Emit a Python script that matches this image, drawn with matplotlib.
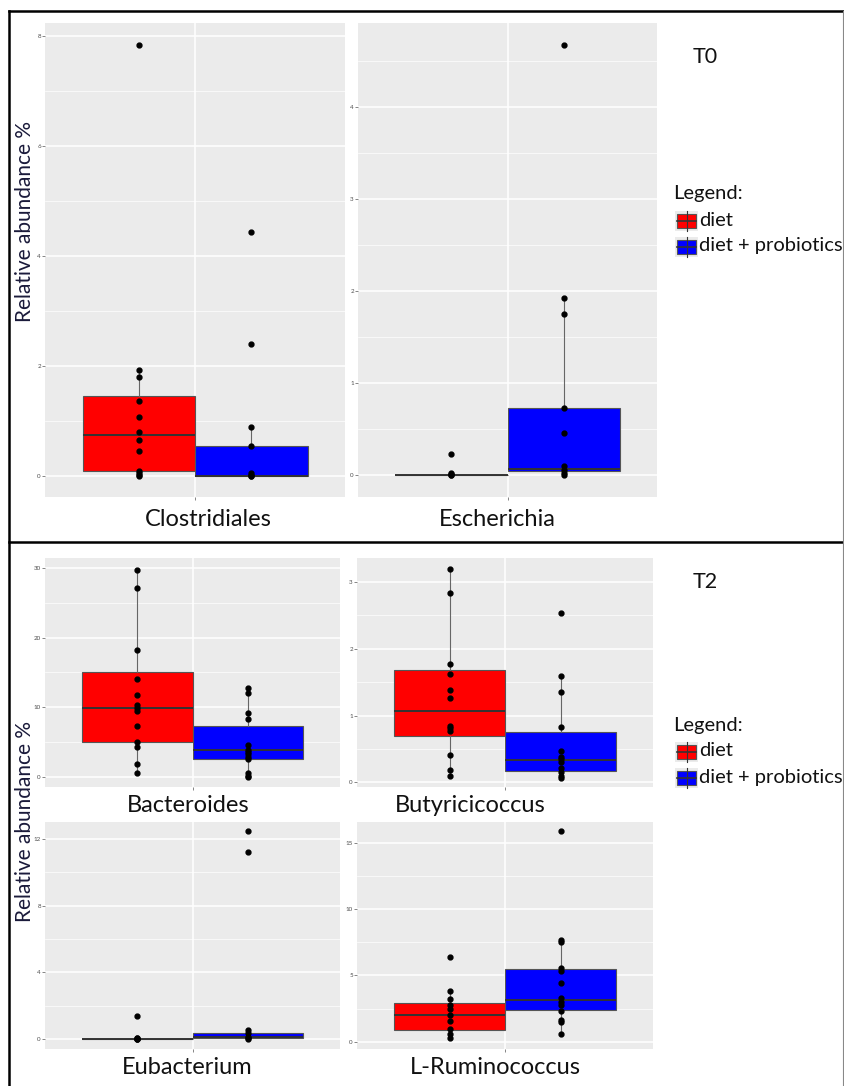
import matplotlib
matplotlib.use("Agg")
import matplotlib.pyplot as plt
from matplotlib.ticker import AutoMinorLocator
from matplotlib.patches import Rectangle

W, H = 844, 1086
plt.rcParams['font.family'] = ['Lato', 'DejaVu Sans']

# values (relative abundance %)
clostridiales_diet = [7.84, 1.93, 1.8, 1.37, 1.07, 0.8, 0.65, 0.45, 0.1, 0.05, 0.02, 0.0]
clostridiales_prob = [4.44, 2.4, 0.9, 0.55, 0.05, 0.02, 0.0, 0.0]
escherichia_diet = [0.23, 0.02, 0.01, 0.0, 0.0]
escherichia_prob = [4.67, 1.92, 1.75, 0.73, 0.45, 0.1, 0.05, 0.02, 0.0]
bacteroides_diet = [29.8, 27.1, 18.3, 14.0, 11.75, 10.3, 9.9, 9.5, 7.3, 5.0, 4.3, 1.9, 0.5]
bacteroides_prob = [12.8, 12.1, 9.1, 8.3, 4.6, 3.9, 3.6, 3.3, 2.8, 2.5, 0.6, 0.1, 0.0]
butyricicoccus_diet = [3.19, 2.83, 1.77, 1.63, 1.39, 1.27, 0.85, 0.82, 0.77, 0.41, 0.19, 0.09]
butyricicoccus_prob = [2.53, 1.6, 1.35, 0.83, 0.47, 0.38, 0.35, 0.3, 0.22, 0.15, 0.1, 0.07]
eubacterium_diet = [1.4, 0.08, 0.04, 0.02, 0.0, 0.0]
eubacterium_prob = [12.5, 11.2, 0.55, 0.35, 0.15, 0.05, 0.0]
ruminococcus_diet = [6.4, 3.85, 3.25, 2.75, 2.5, 2.05, 1.55, 0.95, 0.55, 0.25]
ruminococcus_prob = [15.9, 7.7, 7.55, 5.55, 5.3, 4.45, 3.3, 3.0, 2.75, 2.35, 1.65, 1.5, 0.6]

# box stats: whislo, q1, median, q3, whishi
clostridiales_diet_box = [0.0, 0.1, 0.74, 1.45, 1.93]
clostridiales_prob_box = [0.0, 0.0, 0.01, 0.55, 0.9]
escherichia_diet_box = [0.0, 0.0, 0.0, 0.0, 0.0]
escherichia_prob_box = [0.0, 0.04, 0.06, 0.73, 1.92]
bacteroides_diet_box = [0.5, 4.95, 9.9, 15.0, 29.8]
bacteroides_prob_box = [0.0, 2.5, 3.8, 7.3, 12.8]
butyricicoccus_diet_box = [0.09, 0.69, 1.07, 1.68, 3.19]
butyricicoccus_prob_box = [0.07, 0.17, 0.34, 0.75, 1.6]
eubacterium_diet_box = [0.0, 0.0, 0.0, 0.02, 0.08]
eubacterium_prob_box = [0.0, 0.05, 0.15, 0.38, 0.55]
ruminococcus_diet_box = [0.25, 0.88, 2.03, 2.94, 3.85]
ruminococcus_prob_box = [0.6, 2.37, 3.14, 5.5, 7.7]

titles = ['Clostridiales', 'Escherichia', 'Bacteroides', 'Butyricicoccus', 'Eubacterium', 'L-Ruminococcus']
yticks = [[0, 2, 4, 6, 8], [0, 1, 2, 3, 4], [0, 10, 20, 30], [0, 1, 2, 3], [0, 4, 8, 12], [0, 5, 10, 15]]
ylims = [(-0.38, 8.24), (-0.24, 4.91), (-1.48, 31.47), (-0.07, 3.36), (-0.6, 13.02), (-0.55, 16.56)]
groups = ['diet', 'diet + probiotics']
colors = ['#ff0000', '#0000ff']

points = [(clostridiales_diet, clostridiales_prob), (escherichia_diet, escherichia_prob),
          (bacteroides_diet, bacteroides_prob), (butyricicoccus_diet, butyricicoccus_prob),
          (eubacterium_diet, eubacterium_prob), (ruminococcus_diet, ruminococcus_prob)]
boxes = [(clostridiales_diet_box, clostridiales_prob_box), (escherichia_diet_box, escherichia_prob_box),
         (bacteroides_diet_box, bacteroides_prob_box), (butyricicoccus_diet_box, butyricicoccus_prob_box),
         (eubacterium_diet_box, eubacterium_prob_box), (ruminococcus_diet_box, ruminococcus_prob_box)]

# panel boxes in pixels: x0, y0, x1, y1, and where each name sits below
panel_px = [(45, 23, 345, 497), (358, 23, 657, 497),
            (45, 558, 340, 787), (357, 558, 653, 787),
            (45, 822, 340, 1049), (357, 822, 653, 1049)]
title_px = [(208, 520), (497, 520), (188, 806), (470, 806), (187, 1068), (495, 1068)]

fig = plt.figure(figsize=(W / 100, H / 100), dpi=100)
fig.patch.set_facecolor('white')

# overlay in pixel coordinates for frames, labels and legends
ov = fig.add_axes([0, 0, 1, 1])
ov.set_xlim(0, W)
ov.set_ylim(H, 0)
ov.axis('off')
ov.plot([9, 9], [11, H], color='black', lw=1.8)
ov.plot([9, 843], [11, 11], color='black', lw=1.8)
ov.plot([9, 843], [542, 542], color='black', lw=1.8)
ov.plot([843, 843], [11, H], color='#888888', lw=0.8)

positions = [0.775, 1.225]
for i in range(6):
    x0, y0, x1, y1 = panel_px[i]
    ax = fig.add_axes([x0 / W, 1 - y1 / H, (x1 - x0) / W, (y1 - y0) / H])
    ax.set_facecolor('#ebebeb')
    for j in range(2):
        b = boxes[i][j]
        stats = [dict(whislo=b[0], q1=b[1], med=b[2], q3=b[3], whishi=b[4])]
        ax.bxp(stats, positions=[positions[j]], widths=0.45, patch_artist=True,
               showfliers=False, showcaps=False,
               boxprops=dict(facecolor=colors[j], edgecolor='#555555', lw=0.8),
               medianprops=dict(color='#333333', lw=1.4),
               whiskerprops=dict(color='#666666', lw=0.8), manage_ticks=False)
        ax.plot([positions[j]] * len(points[i][j]), points[i][j], 'o', color='black',
                ms=3.5, zorder=5)
    ax.set_xlim(0.4, 1.6)
    ax.set_ylim(*ylims[i])
    ax.set_yticks(yticks[i])
    ax.yaxis.set_minor_locator(AutoMinorLocator(2))
    ax.set_xticks([1])
    ax.set_xticklabels([''])
    ax.tick_params(axis='both', which='major', length=2, width=0.5, color='#555555',
                   labelsize=4.5, labelcolor='#4d4d4d', pad=1)
    ax.tick_params(axis='y', which='minor', length=0)
    ax.grid(which='major', color='white', lw=1.1)
    ax.grid(which='minor', axis='y', color='white', lw=0.5)
    ax.set_axisbelow(True)
    for s in ax.spines.values():
        s.set_visible(False)
    ov.text(title_px[i][0], title_px[i][1], titles[i], fontsize=17,
            ha='center', va='center', color='#111111')

ov.text(25, 222, 'Relative abundance %', rotation=90, fontsize=15, ha='center',
        va='center', color='#1a1a3a')
ov.text(25, 822, 'Relative abundance %', rotation=90, fontsize=15, ha='center',
        va='center', color='#1a1a3a')
ov.text(705, 57, 'T0', fontsize=15.5, ha='center', va='center', color='#111111')
ov.text(705, 582, 'T2', fontsize=15.5, ha='center', va='center', color='#111111')

# hand made legends
for ly in [194, 725]:
    ov.text(673, ly, 'Legend:', fontsize=14.5, ha='left', va='center', color='#111111')
    for k in range(2):
        ky = ly + 27 + k * 26
        ov.add_patch(Rectangle((675, ky - 10), 23, 20, facecolor='#ebebeb', edgecolor='none'))
        ov.plot([686.5, 686.5], [ky - 10, ky + 10], color='#333333', lw=0.8)
        ov.add_patch(Rectangle((677, ky - 7), 19, 14, facecolor=colors[k], edgecolor='#555555', lw=0.8))
        ov.plot([677, 696], [ky, ky], color='#333333', lw=1.2)
        ov.text(699, ky - 1, groups[k], fontsize=14.5, ha='left', va='center', color='#111111')

fig.savefig('out.png', dpi=100)
